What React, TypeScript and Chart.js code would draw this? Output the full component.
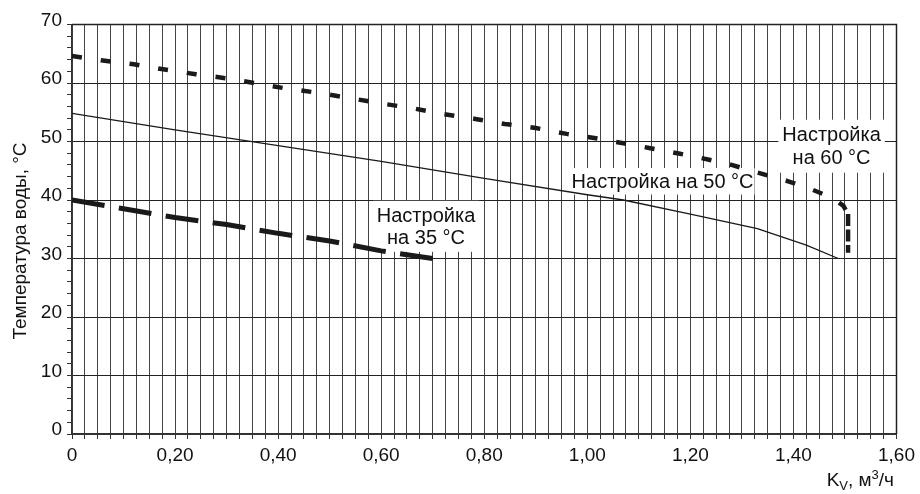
import React, { useEffect, useRef } from "react";
import { Chart, registerables } from "chart.js";

Chart.register(...registerables);

const FONT = "'Liberation Sans', Arial, Helvetica, sans-serif";

// X tick labels (every 0.20 m3/h) and Y tick labels (every 10 °C)
const xTickLabels = ["0", "0,20", "0,40", "0,60", "0,80", "1,00", "1,20", "1,40", "1,60"];
const yTickLabels = ["0", "10", "20", "30", "40", "50", "60", "70"];

// Setting 35 °C
const kv35 = [0, 0.1, 0.2, 0.3, 0.4, 0.5, 0.6, 0.7];
const t35 = [40.0, 38.5, 37.0, 35.8, 34.3, 33.0, 31.3, 30.0];

// Setting 50 °C
const kv50 = [0, 0.2, 0.4, 0.6, 0.8, 1.0, 1.07, 1.2, 1.33, 1.425, 1.487];
const t50 = [54.8, 52.0, 49.3, 46.6, 43.7, 40.9, 40.0, 37.6, 35.1, 32.3, 30.0];

// Setting 60 °C
const kv60 = [0, 0.06, 0.12, 0.18, 0.24, 0.3, 0.36, 0.42, 0.48, 0.54, 0.6, 0.66, 0.72, 0.78, 0.84, 0.9, 0.96, 1.02, 1.07, 1.12, 1.18, 1.22, 1.28, 1.33, 1.39, 1.43, 1.475, 1.497, 1.506, 1.506];
const t60 = [64.6, 63.85, 63.2, 62.3, 61.5, 60.8, 59.9, 59.0, 58.3, 57.4, 56.5, 55.7, 54.7, 53.9, 53.0, 52.3, 51.3, 50.5, 49.7, 48.9, 47.9, 47.2, 46.0, 44.7, 43.2, 42.0, 40.4, 39.0, 37.6, 31.0];

const label35 = ["Настройка", "на 35 °C"];
const label50 = ["Настройка на 50 °C"];
const label60 = ["Настройка", "на 60 °C"];

const yTitle = "Температура воды, °C";

const toXY = (xs: number[], ys: number[]) => xs.map((x, i) => ({ x, y: ys[i] }));

// annotation anchors in data units (centre of text block)
const annotations = [
  { lines: label35, kv: 0.687, t: 35.5, padX: 4, padY: 3 },
  { lines: label50, kv: 1.146, t: 43.2, padX: 1, padY: 2 },
  { lines: label60, kv: 1.474, t: 49.2, padX: 4, padY: 4 },
];

export default function App() {
  const ref = useRef<HTMLCanvasElement | null>(null);

  useEffect(() => {
    if (!ref.current) return;
    const labelsPlugin = {
      id: "labelsPlugin",
      beforeDatasetsDraw(chart: any) {
        const { ctx } = chart;
        const xs = chart.scales.x;
        const ys = chart.scales.y;
        ctx.save();
        ctx.font = `20px ${FONT}`;
        ctx.textAlign = "center";
        ctx.textBaseline = "middle";
        const lh = 22.5;
        annotations.forEach((a) => {
          const cx = xs.getPixelForValue(a.kv);
          const cy = ys.getPixelForValue(a.t);
          const w = Math.max(...a.lines.map((l) => ctx.measureText(l).width));
          const h = lh * a.lines.length;
          ctx.fillStyle = "#ffffff";
          ctx.fillRect(cx - w / 2 - a.padX, cy - h / 2 - a.padY, w + 2 * a.padX, h + 2 * a.padY);
          ctx.fillStyle = "#111111";
          a.lines.forEach((l, i) => {
            ctx.fillText(l, cx, cy - h / 2 + lh * (i + 0.5) + 1);
          });
        });
        ctx.restore();
      },
      afterDraw(chart: any) {
        const { ctx, chartArea } = chart;
        ctx.save();
        // frame top/right
        ctx.strokeStyle = "#222";
        ctx.lineWidth = 1.5;
        ctx.beginPath();
        ctx.moveTo(chartArea.left, chartArea.top);
        ctx.lineTo(chartArea.right, chartArea.top);
        ctx.lineTo(chartArea.right, chartArea.bottom);
        ctx.stroke();
        // Y title
        ctx.fillStyle = "#111";
        ctx.font = `19px ${FONT}`;
        ctx.textAlign = "center";
        ctx.textBaseline = "middle";
        ctx.translate(21, 241);
        ctx.rotate(-Math.PI / 2);
        ctx.fillText(yTitle, 0, 0);
        ctx.restore();

        // X title: K_v, м^3/ч (right aligned)
        ctx.save();
        ctx.fillStyle = "#111";
        ctx.textBaseline = "alphabetic";
        ctx.textAlign = "left";
        const big = `19px ${FONT}`;
        const small = `13px ${FONT}`;
        const parts = [
          { t: "K", f: big, dy: 0 },
          { t: "V", f: small, dy: 4 },
          { t: ", м", f: big, dy: 0 },
          { t: "3", f: small, dy: -7 },
          { t: "/ч", f: big, dy: 0 },
        ];
        let total = 0;
        parts.forEach((p) => {
          ctx.font = p.f;
          total += ctx.measureText(p.t).width;
        });
        let x = 894 - total;
        const base = 486;
        parts.forEach((p) => {
          ctx.font = p.f;
          ctx.fillText(p.t, x, base + p.dy);
          x += ctx.measureText(p.t).width;
        });
        ctx.restore();
      },
    };

    const n60 = kv60.length;

    const chart = new Chart(ref.current, {
      type: "line",
      data: {
        datasets: [
          {
            label: "50",
            data: toXY(kv50, t50),
            borderColor: "#1a1a1a",
            borderWidth: 1.3,
            pointRadius: 0,
            tension: 0,
            fill: false,
          },
          {
            label: "60",
            data: toXY(kv60, t60),
            borderColor: "#1a1a1a",
            borderWidth: 4.5,
            borderDash: [10, 19],
            borderCapStyle: "butt",
            pointRadius: 0,
            tension: 0,
            fill: false,
            segment: {
              borderDash: (c: any) => (c.p0DataIndex >= n60 - 2 ? [12, 3.5] : undefined),
            },
          },
          {
            label: "35",
            data: toXY(kv35, t35),
            borderColor: "#1a1a1a",
            borderWidth: 5,
            borderDash: [33, 14.5],
            borderCapStyle: "butt",
            pointRadius: 0,
            tension: 0,
            fill: false,
          },
        ],
      },
      options: {
        animation: false,
        responsive: true,
        maintainAspectRatio: false,
        parsing: true,
        layout: { padding: { top: 24.5, right: 23, left: 0, bottom: 0 } },
        plugins: { legend: { display: false }, tooltip: { enabled: false }, title: { display: false } },
        scales: {
          x: {
            type: "linear",
            min: 0,
            max: 1.6,
            afterFit: (s: any) => {
              s.height = 60;
            },
            border: { display: true, color: "#333", width: 2 },
            grid: {
              color: (c: any) => (c.tick && Math.abs(c.tick.value - 1.6) < 1e-6 ? "transparent" : "#444"),
              lineWidth: 1,
              tickLength: 5,
              tickColor: "#333",
              drawTicks: true,
            },
            ticks: {
              stepSize: 0.025,
              autoSkip: false,
              maxRotation: 0,
              padding: 5,
              color: "#111",
              font: { family: FONT, size: 19 },
              callback: (v: any) => {
                const k = Number(v) * 5;
                const r = Math.round(k);
                return Math.abs(k - r) < 1e-6 ? xTickLabels[r] : "";
              },
            },
          },
          y: {
            type: "linear",
            min: 0,
            max: 70,
            afterFit: (s: any) => {
              s.width = 72;
            },
            border: { display: true, color: "#333", width: 1.5 },
            grid: {
              color: (c: any) =>
                c.tick && c.tick.value % 10 === 0 && c.tick.value !== 0 && c.tick.value !== 70 ? "#222" : "transparent",
              lineWidth: 1,
              tickLength: 5,
              tickColor: "#333",
              drawTicks: true,
            },
            ticks: {
              stepSize: 2,
              autoSkip: false,
              padding: 5,
              labelOffset: -4,
              color: "#111",
              font: { family: FONT, size: 19 },
              callback: (v: any) => {
                const n = Number(v);
                return n % 10 === 0 ? yTickLabels[n / 10] : "";
              },
            },
          },
        },
      },
      plugins: [labelsPlugin],
    } as any);
    return () => chart.destroy();
  }, []);

  return (
    <div style={{ position: "fixed", left: 0, top: 0, width: 920, height: 494, background: "#fff" }}>
      <canvas ref={ref} />
    </div>
  );
}
